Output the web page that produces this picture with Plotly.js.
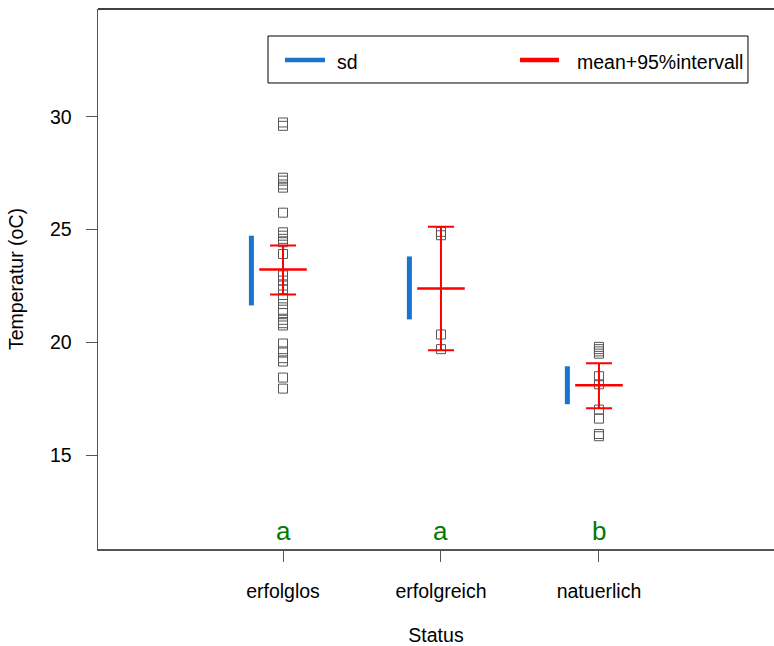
<!DOCTYPE html>
<html>
<head>
<meta charset="utf-8">
<script src="https://cdn.plot.ly/plotly-3.0.1.min.js"></script>
<style>html,body{margin:0;padding:0;overflow:hidden;background:#fff}</style>
</head>
<body>
<div id="chart" style="width:774px;height:646px"></div>
<script>
const categories = ['erfolglos', 'erfolgreich', 'natuerlich'];
const valsErfolglos = [29.75, 29.6, 27.3, 27.17, 27.0, 26.86, 25.75, 24.88, 24.73, 24.59, 24.44, 23.92,
  22.97, 22.74, 22.52, 22.35, 21.95, 21.7, 21.45, 21.3, 21.0, 20.85, 20.75, 19.95, 19.6, 19.3, 19.15, 18.44, 17.95];
const valsErfolgreich = [24.9, 24.75, 20.35, 19.7];
const valsNatuerlich = [19.8, 19.7, 19.6, 19.5, 18.5, 18.14, 17.02, 16.62, 15.94, 15.84];
const means = [23.23, 22.39, 18.10];
const ciLow = [22.12, 19.65, 17.08];
const ciHigh = [24.29, 25.13, 19.07];
const sdLow = [21.64, 21.02, 17.26];
const sdHigh = [24.73, 23.81, 18.94];
const letters = ['a', 'a', 'b'];
const yTicks = [15, 20, 25, 30];
const legendLabels = ['sd', 'mean+95%intervall'];

const FONT = 'Liberation Sans, Arial, sans-serif';
const BLUE = '#1874CD';
const RED = '#FF0000';
const legendColors = [BLUE, RED];
const groups = [valsErfolglos, valsErfolgreich, valsNatuerlich];
const pos = categories.map((c, i) => i + 1);

const traces = [];
groups.forEach((vals, i) => {
  traces.push({
    type: 'scatter', mode: 'markers', name: categories[i],
    x: vals.map(() => pos[i]), y: vals,
    marker: {symbol: 'square-open', size: 9, color: '#555', line: {width: 1}},
    showlegend: false, hoverinfo: 'y'
  });
});
const sx = [], sy = [];
pos.forEach((p, i) => { sx.push(p - 0.2, p - 0.2, null); sy.push(sdLow[i], sdHigh[i], null); });
traces.push({type: 'scatter', mode: 'lines', name: legendLabels[0], x: sx, y: sy, line: {color: BLUE, width: 5}, showlegend: false});
traces.push({
  type: 'scatter', mode: 'markers', name: legendLabels[1], x: pos, y: means,
  marker: {symbol: 'line-ew', size: 34, color: RED, line: {color: RED, width: 2.5}},
  error_y: {type: 'data', symmetric: false,
    array: means.map((m, i) => ciHigh[i] - m),
    arrayminus: means.map((m, i) => m - ciLow[i]),
    color: RED, thickness: 2, width: 13},
  showlegend: false
});

// manual legend box (paper coordinates)
const legBox = {x0: 0.2515, x1: 0.9615, y0: 0.863, y1: 0.95};
const legLineX = [[0.2766, 0.3358], [0.6243, 0.6820]];
const legTextX = [0.3506, 0.7056];
const legY = 0.9056;

const shapes = [
  {type: 'line', xref: 'paper', yref: 'paper', x0: 0, x1: 1, y0: 1, y1: 1, line: {color: '#000', width: 1.5}},
  {type: 'rect', xref: 'paper', yref: 'paper', x0: legBox.x0, x1: legBox.x1, y0: legBox.y0, y1: legBox.y1,
    line: {color: '#000', width: 1}, fillcolor: '#fff', layer: 'above'}
];
legendLabels.forEach((l, i) => {
  shapes.push({type: 'line', xref: 'paper', yref: 'paper', x0: legLineX[i][0], x1: legLineX[i][1], y0: legY, y1: legY,
    line: {color: legendColors[i], width: 4.5}, layer: 'above'});
});

const annotations = letters.map((t, i) => ({
  x: pos[i], y: 11.64, xref: 'x', yref: 'y', text: t, showarrow: false,
  font: {family: FONT, size: 26, color: '#007A00'}
}));
legendLabels.forEach((l, i) => {
  annotations.push({x: legTextX[i], y: legY - 0.004, xref: 'paper', yref: 'paper', xanchor: 'left', yanchor: 'middle',
    text: l, showarrow: false, font: {family: FONT, size: 19.5, color: '#000'}});
});

const layout = {
  width: 774, height: 646,
  margin: {l: 98, r: 0, t: 9, b: 97},
  paper_bgcolor: '#fff', plot_bgcolor: '#fff',
  font: {family: FONT, size: 19.5, color: '#000'},
  showlegend: false,
  xaxis: {
    range: [-0.171, 4.108], tickvals: pos, ticktext: categories,
    showline: true, linecolor: '#555', linewidth: 1.5, ticks: 'outside', ticklen: 11, tickcolor: '#555',
    showgrid: false, zeroline: false, ticklabelstandoff: 13,
    title: {text: 'Status', font: {size: 19.5}, standoff: 27}
  },
  yaxis: {
    range: [10.84, 34.78], tickvals: yTicks,
    showline: true, linecolor: '#555', linewidth: 1.5, ticks: 'outside', ticklen: 11, tickcolor: '#555',
    showgrid: false, zeroline: false, ticklabelstandoff: 10,
    title: {text: 'Temperatur (oC)', font: {size: 19.5}, standoff: 21}
  },
  shapes: shapes,
  annotations: annotations
};

Plotly.newPlot('chart', traces, layout, {displayModeBar: false, staticPlot: true});
</script>
</body>
</html>
